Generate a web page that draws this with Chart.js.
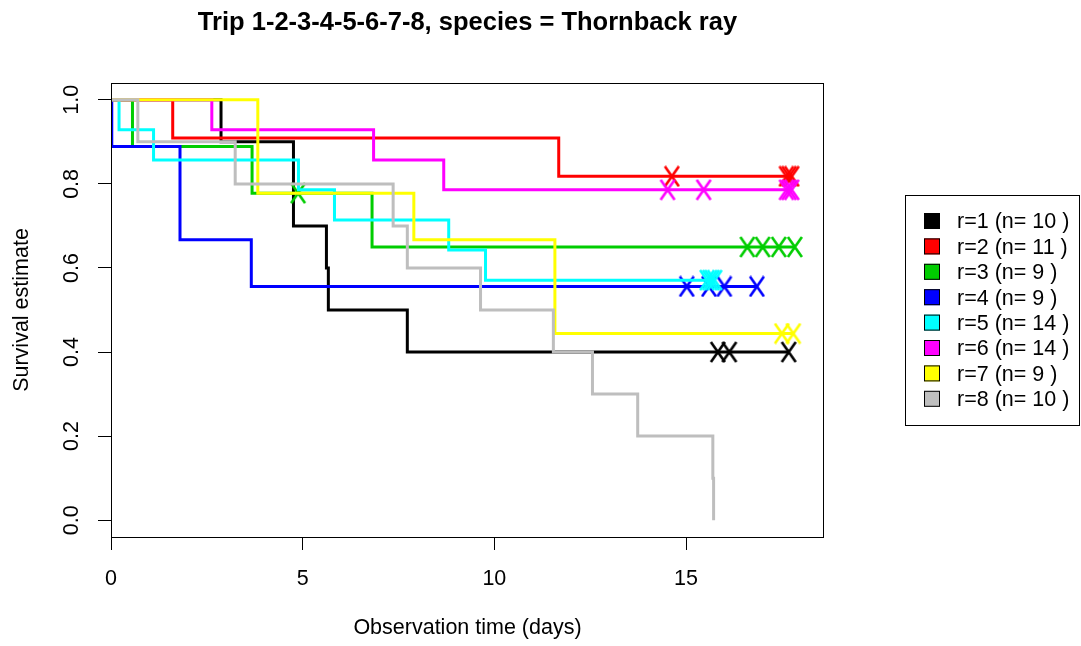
<!DOCTYPE html>
<html>
<head>
<meta charset="utf-8">
<script src="https://cdn.jsdelivr.net/npm/chart.js@4.4.1/dist/chart.umd.min.js"></script>
<style>
  html, body { margin: 0; padding: 0; background: #fff; }
</style>
</head>
<body>
<canvas id="myChart" width="1081" height="646"></canvas>
<script>
// groups and colours (R palette 1..8)
const groupLabels = ["r=1 (n= 10 )", "r=2 (n= 11 )", "r=3 (n= 9 )", "r=4 (n= 9 )",
                     "r=5 (n= 14 )", "r=6 (n= 14 )", "r=7 (n= 9 )", "r=8 (n= 10 )"];
const groupColors = ["#000000", "#ff0000", "#00cd00", "#0000ff",
                     "#00ffff", "#ff00ff", "#ffff00", "#bebebe"];

// step times (days) and survival estimate after each step
const time1 = [0, 2.87, 4.76, 5.62, 5.67, 7.73, 17.68];
const surv1 = [1, 0.9, 0.7, 0.6, 0.5, 0.4, 0.4];
const cens1 = [15.83, 16.13, 17.68];

const time2 = [0, 1.61, 11.68, 17.76];
const surv2 = [1, 0.909, 0.818, 0.818];
const cens2 = [14.63, 17.62, 17.69, 17.76];

const time3 = [0, 0.56, 3.68, 6.81, 17.84];
const surv3 = [1, 0.889, 0.778, 0.65, 0.65];
const cens3 = [4.88, 16.6, 17.0, 17.42, 17.84];

const time4 = [0, 0.02, 1.80, 3.66, 16.85];
const surv4 = [1, 0.889, 0.667, 0.556, 0.556];
const cens4 = [15.02, 15.6, 16.0, 16.85];

const time5 = [0, 0.21, 1.11, 4.89, 5.83, 8.81, 9.77, 15.75];
const surv5 = [1, 0.929, 0.857, 0.786, 0.714, 0.643, 0.571, 0.571];
const cens5 = [15.55, 15.62, 15.68, 15.75];

const time6 = [0, 2.63, 6.85, 8.68, 17.76];
const surv6 = [1, 0.929, 0.857, 0.786, 0.786];
const cens6 = [14.52, 15.46, 17.62, 17.69, 17.76];

const time7 = [0, 3.83, 7.90, 11.58, 17.8];
const surv7 = [1, 0.778, 0.667, 0.444, 0.444];
const cens7 = [17.5, 17.8];

const time8 = [0, 0.70, 3.24, 7.36, 7.73, 9.64, 11.54, 12.56, 13.74, 15.70, 15.72];
const surv8 = [1, 0.9, 0.8, 0.7, 0.6, 0.5, 0.4, 0.3, 0.2, 0.1, 0];
const cens8 = [];

const xTicks = [0, 5, 10, 15];
const yTicks = [0, 0.2, 0.4, 0.6, 0.8, 1.0];
const yTickLabels = ["0.0", "0.2", "0.4", "0.6", "0.8", "1.0"];

const allTimes = [time1, time2, time3, time4, time5, time6, time7, time8];
const allSurv = [surv1, surv2, surv3, surv4, surv5, surv6, surv7, surv8];
const allCens = [cens1, cens2, cens3, cens4, cens5, cens6, cens7, cens8];

const FONT = "'Liberation Sans', Arial, sans-serif";

// survival value of a step curve at time t
function survAt(times, surv, t) {
  let s = surv[0];
  for (let i = 0; i < times.length; i++) {
    if (times[i] <= t) s = surv[i];
  }
  return s;
}

// "X" censor mark as a small canvas
function makeMark(color) {
  const c = document.createElement("canvas");
  c.width = 18;
  c.height = 22;
  const g = c.getContext("2d");
  g.strokeStyle = color;
  g.lineWidth = 2.6;
  g.beginPath();
  g.moveTo(2, 1); g.lineTo(16, 21);
  g.moveTo(16, 1); g.lineTo(2, 21);
  g.stroke();
  return c;
}

const datasets = [];
allTimes.forEach((times, i) => {
  datasets.push({
    label: groupLabels[i],
    data: times.map((t, k) => ({ x: t, y: allSurv[i][k] })),
    showLine: true,
    stepped: true,
    borderColor: groupColors[i],
    borderWidth: 3,
    pointRadius: 0,
    fill: false,
    order: 2 * (8 - i) + 1
  });
  datasets.push({
    label: groupLabels[i] + " censored",
    data: allCens[i].map(t => ({ x: t, y: survAt(times, allSurv[i], t) })),
    showLine: false,
    pointStyle: makeMark(groupColors[i]),
    pointRadius: 10,
    order: 2 * (8 - i)
  });
});

const decorations = {
  id: "decorations",
  afterDraw(chart) {
    const ctx = chart.ctx;
    const a = chart.chartArea;
    const ys = chart.scales.y;
    ctx.save();
    // plot box
    ctx.strokeStyle = "#000";
    ctx.lineWidth = 1;
    ctx.strokeRect(a.left + 0.5, a.top + 0.5, a.right - a.left - 1, a.bottom - a.top);

    ctx.fillStyle = "#000";
    // title
    ctx.font = "bold 25.5px " + FONT;
    ctx.textAlign = "center";
    ctx.textBaseline = "middle";
    ctx.fillText("Trip 1-2-3-4-5-6-7-8, species = Thornback ray", (a.left + a.right) / 2, 23);

    // axis titles
    ctx.font = "21.5px " + FONT;
    ctx.fillText("Observation time (days)", (a.left + a.right) / 2, 628);
    ctx.save();
    ctx.translate(22, (a.top + a.bottom) / 2);
    ctx.rotate(-Math.PI / 2);
    ctx.fillText("Survival estimate", 0, 0);
    ctx.restore();

    // rotated y tick labels
    yTicks.forEach((v, i) => {
      ctx.save();
      ctx.translate(72, ys.getPixelForValue(v));
      ctx.rotate(-Math.PI / 2);
      ctx.fillText(yTickLabels[i], 0, 0);
      ctx.restore();
    });

    // legend
    const lx = 905, ly = 195, lw = 175, lh = 230;
    ctx.strokeRect(lx + 0.5, ly + 0.5, lw - 1, lh);
    ctx.textAlign = "left";
    groupLabels.forEach((lab, i) => {
      const cy = 221 + i * 25.4;
      ctx.fillStyle = groupColors[i];
      ctx.fillRect(924, cy - 8, 16, 16);
      ctx.strokeStyle = "#000";
      ctx.strokeRect(924.5, cy - 7.5, 15, 15);
      ctx.fillStyle = "#000";
      ctx.fillText(lab, 957, cy + 1.5);
    });
    ctx.restore();
  }
};

const ctx = document.getElementById("myChart");
const myChart = new Chart(ctx, {
  type: "scatter",
  data: { datasets: datasets },
  options: {
    responsive: false,
    animation: false,
    layout: { padding: { top: 83, right: 257, left: 0, bottom: 0 } },
    plugins: {
      legend: { display: false },
      title: { display: false },
      tooltip: { enabled: false }
    },
    scales: {
      x: {
        type: "linear",
        min: 0,
        max: 18.6,
        afterFit: (scale) => { scale.height = 109; },
        afterBuildTicks: (scale) => { scale.ticks = xTicks.map(v => ({ value: v })); },
        grid: { drawOnChartArea: false, drawTicks: true, tickLength: 13, color: "#000" },
        border: { display: false },
        ticks: {
          color: "#000",
          font: { family: FONT, size: 21.5 },
          padding: 16,
          maxRotation: 0,
          callback: (v) => String(v)
        }
      },
      y: {
        type: "linear",
        min: -0.04,
        max: 1.04,
        afterFit: (scale) => { scale.width = 111; },
        afterBuildTicks: (scale) => { scale.ticks = yTicks.map(v => ({ value: v })); },
        grid: { drawOnChartArea: false, drawTicks: true, tickLength: 13, color: "#000" },
        border: { display: false },
        ticks: { color: "rgba(0,0,0,0)", font: { family: FONT, size: 21.5 } }
      }
    }
  },
  plugins: [decorations]
});
</script>
</body>
</html>
